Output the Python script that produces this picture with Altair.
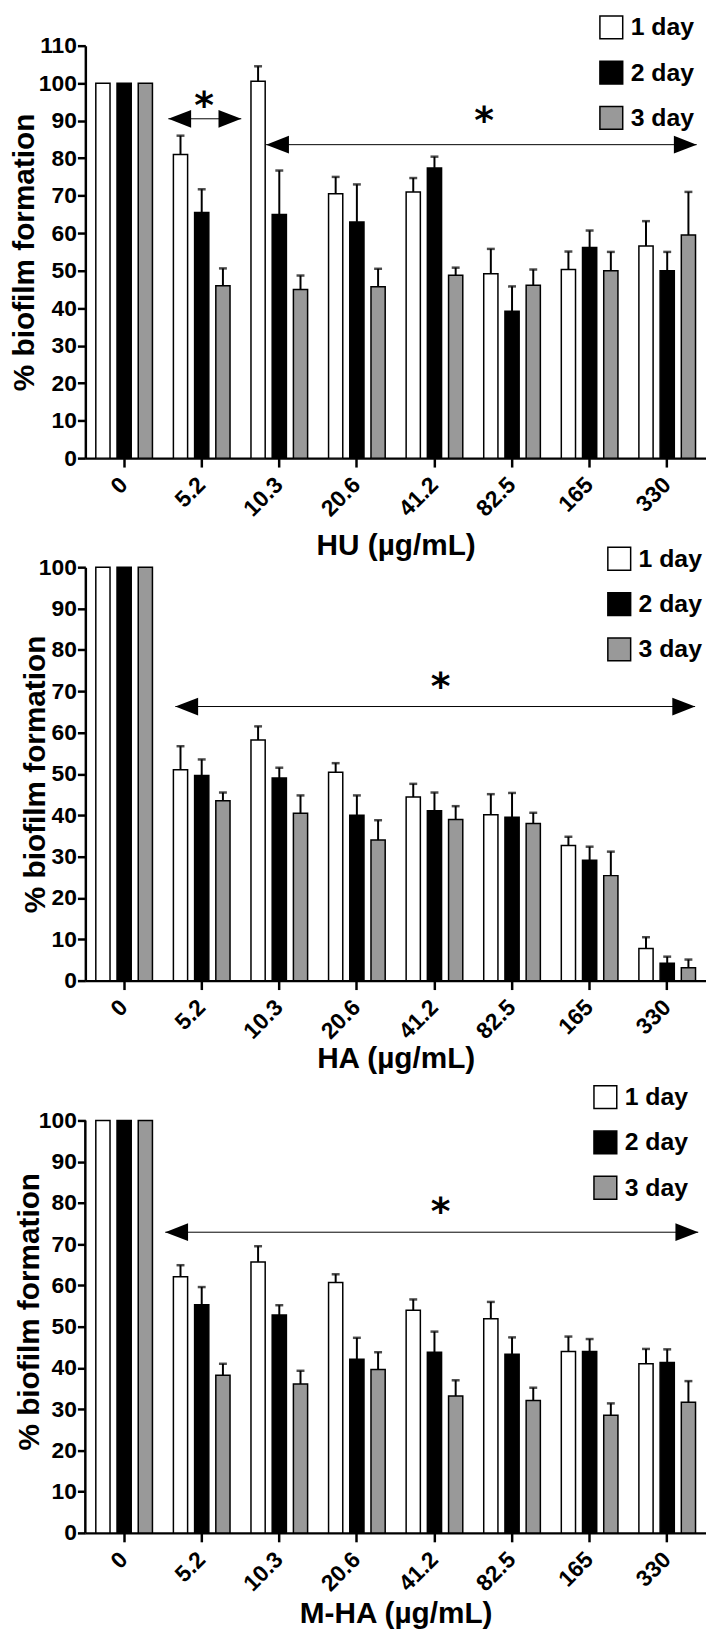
import altair as alt
import pandas as pd

FONT = "Liberation Sans"
STAR_FONT = "DejaVu Sans"

conc = ["0", "5.2", "10.3", "20.6", "41.2", "82.5", "165", "330"]
days = ["1 day", "2 day", "3 day"]
fills = ["#ffffff", "#000000", "#999999"]

# HU panel (mean, upper error)
hu_mean_1 = [100, 81.0, 100.5, 70.5, 71.0, 49.2, 50.3, 56.6]
hu_err_1 = [0, 5.0, 4.0, 4.5, 3.7, 6.6, 4.8, 6.6]
hu_mean_2 = [100, 65.5, 65.0, 63.0, 77.4, 39.2, 56.2, 50.0]
hu_err_2 = [0, 6.2, 11.7, 10.0, 3.0, 6.6, 4.5, 5.0]
hu_mean_3 = [100, 46.0, 45.0, 45.7, 48.8, 46.1, 50.0, 59.5]
hu_err_3 = [0, 4.6, 3.7, 4.8, 2.0, 4.2, 5.0, 11.5]

# HA panel
ha_mean_1 = [100, 51.0, 58.2, 50.4, 44.4, 40.1, 32.7, 7.8]
ha_err_1 = [0, 5.7, 3.3, 2.2, 3.2, 5.0, 2.1, 2.7]
ha_mean_2 = [100, 49.6, 49.0, 40.0, 41.1, 39.5, 29.1, 4.2]
ha_err_2 = [0, 3.9, 2.5, 4.8, 4.4, 5.9, 3.3, 1.6]
ha_mean_3 = [100, 43.5, 40.5, 34.0, 39.0, 38.0, 25.4, 3.1]
ha_err_3 = [0, 2.0, 4.3, 4.8, 3.2, 2.6, 5.8, 2.0]

# M-HA panel
mha_mean_1 = [100, 62.1, 65.7, 60.7, 54.0, 51.9, 44.0, 41.0]
mha_err_1 = [0, 2.8, 3.8, 2.0, 2.6, 4.1, 3.6, 3.6]
mha_mean_2 = [100, 55.3, 52.8, 42.1, 43.8, 43.3, 44.0, 41.3]
mha_err_2 = [0, 4.3, 2.4, 5.2, 5.0, 4.1, 3.0, 3.2]
mha_mean_3 = [100, 38.2, 36.1, 39.6, 33.2, 32.1, 28.5, 31.7]
mha_err_3 = [0, 2.8, 3.2, 4.2, 3.8, 3.1, 2.9, 5.1]

# significance annotations (x in group units 0..8, y in % units)
hu_arrow_from = [1.07, 2.33]
hu_arrow_to = [2.01, 7.88]
hu_arrow_y = [90.5, 83.6]
hu_star_x = [1.53, 5.14]
hu_star_y = [95.9, 91.9]

ha_arrow_from = [1.16]
ha_arrow_to = [7.86]
ha_arrow_y = [66.3]
ha_star_x = [4.58]
ha_star_y = [72.9]

mha_arrow_from = [1.03]
mha_arrow_to = [7.90]
mha_arrow_y = [72.9]
mha_star_x = [4.58]
mha_star_y = [79.6]

LEFT_HEAD = "M0,0L2,-0.78L2,0.78Z"
RIGHT_HEAD = "M0,0L-2,-0.78L-2,0.78Z"


def panel(xtitle, means, errs, a_from, a_to, a_y, s_x, s_y,
          ytop_axis, ytop_domain, height, leg_x, leg_y, xtitle_pad, ytitle_pad, axis_rule):
    rows = []
    for day, ms, es in zip(days, means, errs):
        for c, m, e in zip(conc, ms, es):
            rows.append(dict(conc=c, day=day, value=m, err=e, upper=m + e))
    df = pd.DataFrame(rows)

    yscale = alt.Scale(domain=[0, ytop_domain], nice=False, zero=True)
    xscale = alt.Scale(domain=conc, paddingInner=0.27, paddingOuter=0.135)
    xoff = alt.XOffset("day:N", sort=days,
                       scale=alt.Scale(domain=days, paddingInner=0.33, paddingOuter=0))
    xaxis = alt.Axis(title=xtitle, labelAngle=-45, labelAlign="right",
                     labelBaseline="middle", tickSize=9, labelPadding=14,
                     labelFontSize=23, labelOverlap=False,
                     titlePadding=xtitle_pad, titleFontSize=30)
    x_enc = alt.X("conc:N", sort=conc, scale=xscale, axis=xaxis)

    yaxis = alt.Axis(title="% biofilm formation", values=list(range(0, ytop_axis + 1, 10)),
                     tickSize=8, labelPadding=1, labelFontSize=23, labelOverlap=False,
                     titlePadding=ytitle_pad, titleFontSize=30,
                     domain=not axis_rule)

    def yq(field):
        return alt.Y(field, scale=yscale, axis=yaxis)

    base = alt.Chart(df)
    bars = base.mark_bar(stroke="black", strokeWidth=1.5).encode(
        x=x_enc,
        xOffset=xoff,
        y=yq("value:Q"),
        color=alt.Color("day:N", scale=alt.Scale(domain=days, range=fills),
                        legend=alt.Legend(title=None, orient="none", legendX=leg_x, legendY=leg_y,
                                          symbolType="square", symbolSize=529,
                                          symbolStrokeColor="black", symbolStrokeWidth=1.5,
                                          symbolOpacity=1, labelFont=FONT, labelFontSize=25,
                                          labelFontWeight="bold", labelColor="black",
                                          rowPadding=16.7, labelOffset=7)),
    )
    errb = base.transform_filter("datum.err > 0")
    whisk = errb.mark_rule(color="black", strokeWidth=2).encode(
        x=x_enc, xOffset=xoff, y=yq("value:Q"), y2="upper:Q")
    cap = errb.mark_tick(color="black", thickness=2.5, size=8, orient="horizontal").encode(
        x=x_enc, xOffset=xoff, y=yq("upper:Q"))
    data_layer = alt.layer(bars, whisk, cap)

    uscale = alt.Scale(domain=[0, 8], nice=False, zero=False)
    adf = pd.DataFrame({"x1": a_from, "x2": a_to, "y": a_y})
    sdf = pd.DataFrame({"x": s_x, "y": s_y})
    line = alt.Chart(adf).mark_rule(color="black", strokeWidth=1).encode(
        x=alt.X("x1:Q", scale=uscale, axis=None), x2="x2:Q", y=yq("y:Q"))
    lh = alt.Chart(adf).mark_point(shape=LEFT_HEAD, filled=True, size=529, color="black",
                                   opacity=1).encode(
        x=alt.X("x1:Q", scale=uscale, axis=None), y=yq("y:Q"))
    rh = alt.Chart(adf).mark_point(shape=RIGHT_HEAD, filled=True, size=529, color="black",
                                   opacity=1).encode(
        x=alt.X("x2:Q", scale=uscale, axis=None), y=yq("y:Q"))
    star = alt.Chart(sdf).mark_text(text="*", font=STAR_FONT, fontSize=38, fontWeight="bold",
                                    baseline="alphabetic", dy=20, color="black").encode(
        x=alt.X("x:Q", scale=uscale, axis=None), y=yq("y:Q"))
    layers = [line, lh, rh, star]
    if axis_rule:
        rdf = pd.DataFrame({"y0": [0], "y1": [ytop_axis]})
        layers.append(alt.Chart(rdf).mark_rule(color="black", strokeWidth=2.5).encode(
            x=alt.value(0), y=yq("y0:Q"), y2="y1:Q"))
    ann_layer = alt.layer(*layers)

    return alt.layer(data_layer, ann_layer).resolve_scale(x="independent").properties(
        width=626, height=height)


p1 = panel("HU (\u00b5g/mL)", [hu_mean_1, hu_mean_2, hu_mean_3], [hu_err_1, hu_err_2, hu_err_3],
           hu_arrow_from, hu_arrow_to, hu_arrow_y, hu_star_x, hu_star_y,
           110, 110, 416, 518, -31, 10, -1, False)
p2 = panel("HA (\u00b5g/mL)", [ha_mean_1, ha_mean_2, ha_mean_3], [ha_err_1, ha_err_2, ha_err_3],
           ha_arrow_from, ha_arrow_to, ha_arrow_y, ha_star_x, ha_star_y,
           100, 100, 417, 526, -21, 0, -12, False)
p3 = panel("M-HA (\u00b5g/mL)", [mha_mean_1, mha_mean_2, mha_mean_3],
           [mha_err_1, mha_err_2, mha_err_3],
           mha_arrow_from, mha_arrow_to, mha_arrow_y, mha_star_x, mha_star_y,
           100, 107.45, 447, 512, -5, 3, -6, True)

chart = alt.vconcat(p1, p2, p3, spacing=110, bounds="flush").resolve_scale(
    color="independent").properties(
    padding={"left": 1, "top": 0, "right": 0, "bottom": 0}
).configure_axis(
    labelFont=FONT, labelFontWeight="bold", labelColor="black",
    titleFont=FONT, titleFontWeight="bold", titleColor="black",
    domainColor="black", tickColor="black", domainWidth=2.5, tickWidth=2.5, grid=False
).configure_view(strokeWidth=0)

chart.save("out.html", embed_options={"renderer": "svg", "actions": False})
